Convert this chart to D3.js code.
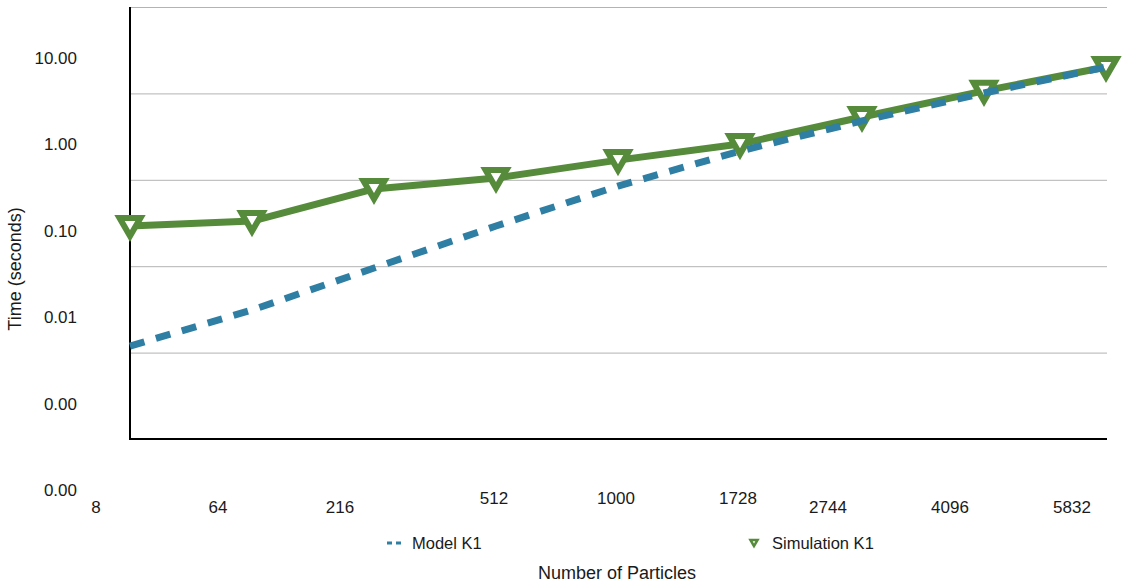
<!DOCTYPE html>
<html>
<head>
<meta charset="utf-8">
<script src="https://cdn.jsdelivr.net/npm/d3@7"></script>
<style>
  body { margin: 0; background: #fff; }
  text { font-family: "Liberation Sans", Arial, Helvetica, sans-serif; fill: #1a1a1a; }
</style>
</head>
<body>
<div id="chart"></div>
<script>
// Data (log y axis, seconds)
const particles = ["8", "64", "216", "512", "1000", "1728", "2744", "4096", "5832"];
const modelK1 = [0.00119, 0.00311, 0.00953, 0.0292, 0.0847, 0.215, 0.480, 1.01, 2.02];
const simulationK1 = [0.0292, 0.0333, 0.0783, 0.105, 0.169, 0.259, 0.533, 1.07, 2.02];
const yTicks = [0.0001, 0.001, 0.01, 0.1, 1, 10];
const seriesNames = ["Model K1", "Simulation K1"];

const width = 1123;
const height = 583;
const plot = { left: 130, right: 1107, top: 7, bottom: 439 };

const green = "#568b3b";
const blue = "#2f7ea3";

const svg = d3.select("#chart")
  .append("svg")
  .attr("width", width)
  .attr("height", height);

// Scales.
const x = d3.scalePoint()
  .domain(particles)
  .range([plot.left, plot.right - 1]);
const y = d3.scaleLog()
  .domain([0.0001, 10])
  .range([plot.bottom, plot.top]);

// Gridlines.
svg.append("g")
  .attr("transform", `translate(${plot.left},0)`)
  .call(d3.axisLeft(y).tickValues(yTicks).tickSize(-(plot.right - plot.left)).tickFormat(""))
  .call(g => g.select(".domain").remove())
  .call(g => g.selectAll("line").attr("stroke", "#b3b3b3").attr("stroke-width", 1));

// Y tick labels (the original draws them about half a decade below their gridline).
const yFmt = d3.format(".2f");
svg.append("g")
  .selectAll("text")
  .data(yTicks)
  .join("text")
  .attr("x", 77)
  .attr("y", d => y(d) + 51 + 6)
  .attr("text-anchor", "end")
  .style("font-size", "17px")
  .text(d => yFmt(d));

// X tick labels: the outer ones sit left of their point and lower; the middle ones are raised.
const raised = new Set(["512", "1000", "1728"]);
svg.append("g")
  .selectAll("text")
  .data(particles)
  .join("text")
  .attr("x", d => raised.has(d) ? x(d) - 2 : x(d) - 34)
  .attr("y", d => raised.has(d) ? 498 + 6 : 507 + 6)
  .attr("text-anchor", "middle")
  .style("font-size", "17px")
  .text(d => d);

// Axes lines.
svg.append("line")
  .attr("x1", plot.left).attr("x2", plot.left)
  .attr("y1", plot.top).attr("y2", plot.bottom + 1)
  .attr("stroke", "#000").attr("stroke-width", 2);
svg.append("line")
  .attr("x1", plot.left - 1).attr("x2", plot.right)
  .attr("y1", plot.bottom).attr("y2", plot.bottom)
  .attr("stroke", "#000").attr("stroke-width", 2);

const line = d3.line()
  .x((d, i) => x(particles[i]))
  .y(d => y(d));

// Simulation line.
svg.append("path")
  .datum(simulationK1)
  .attr("d", line)
  .attr("fill", "none")
  .attr("stroke", green)
  .attr("stroke-width", 7)
  .attr("stroke-linejoin", "round");

// Simulation markers (downward triangles).
const tri = d3.symbol(d3.symbolTriangle, 190);
svg.append("g")
  .selectAll("path")
  .data(simulationK1)
  .join("path")
  .attr("d", tri)
  .attr("transform", (d, i) => `translate(${x(particles[i])},${y(d) - 2}) rotate(180)`)
  .attr("fill", "#fff")
  .attr("stroke", green)
  .attr("stroke-width", 6)
  .attr("stroke-linejoin", "miter");

// Model line (dashed).
svg.append("path")
  .datum(modelK1)
  .attr("d", line)
  .attr("fill", "none")
  .attr("stroke", blue)
  .attr("stroke-width", 7)
  .attr("stroke-dasharray", "15,12");

// Legend.
const legend = svg.append("g");
legend.append("line")
  .attr("x1", 387).attr("x2", 401)
  .attr("y1", 543).attr("y2", 543)
  .attr("stroke", blue)
  .attr("stroke-width", 3)
  .attr("stroke-dasharray", "5,4");
legend.append("text")
  .attr("x", 412).attr("y", 549)
  .style("font-size", "16.5px")
  .text(seriesNames[0]);
legend.append("path")
  .attr("d", d3.symbol(d3.symbolTriangle, 22))
  .attr("transform", "translate(754,542) rotate(180)")
  .attr("fill", "#fff")
  .attr("stroke", green)
  .attr("stroke-width", 2.5);
legend.append("text")
  .attr("x", 772).attr("y", 549)
  .style("font-size", "16.5px")
  .text(seriesNames[1]);

// Axis titles.
svg.append("text")
  .attr("x", 617).attr("y", 579)
  .attr("text-anchor", "middle")
  .style("font-size", "18px")
  .text("Number of Particles");
svg.append("text")
  .attr("transform", "translate(21,269) rotate(-90)")
  .attr("text-anchor", "middle")
  .style("font-size", "18px")
  .text("Time (seconds)");
</script>
</body>
</html>
